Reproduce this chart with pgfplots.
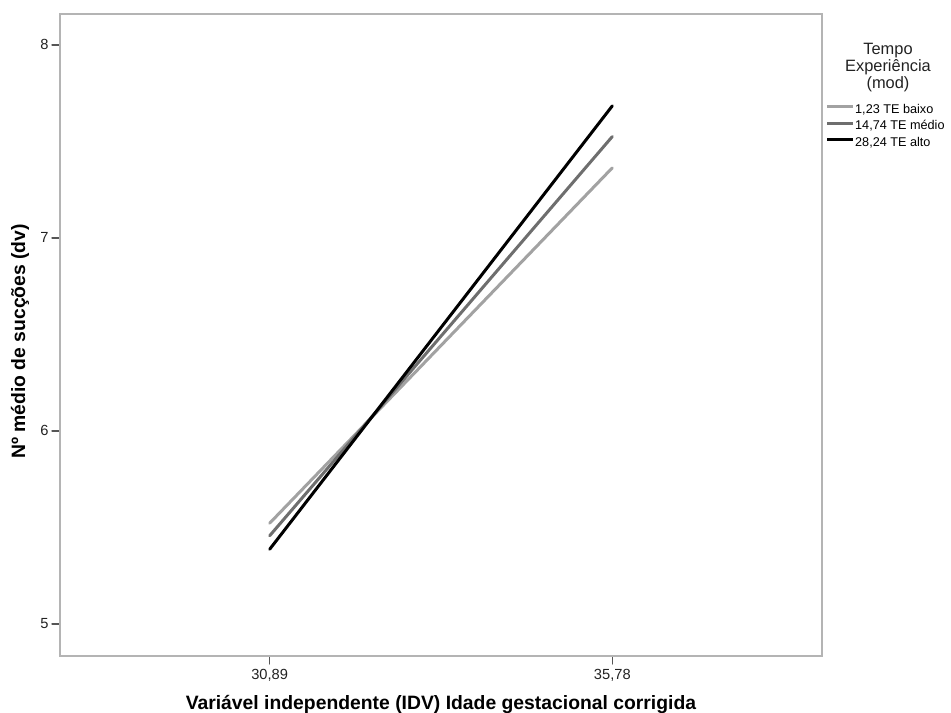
\documentclass[border=0pt]{standalone}
\usepackage{pgfplots}
\pgfplotsset{compat=1.18}
\usepackage{fontspec}
\setmainfont{Liberation Sans}
\definecolor{lightln}{HTML}{A2A2A2}
\definecolor{midln}{HTML}{6E6E6E}
\definecolor{framec}{HTML}{B4B4B4}
\definecolor{tickc}{HTML}{555555}
\definecolor{textc}{HTML}{222222}
\begin{document}
\begin{tikzpicture}
\path[use as bounding box] (0pt,0pt) rectangle (713.25pt,534.75pt);
\begin{axis}[
  at={(45pt,42.75pt)}, anchor=south west,
  scale only axis, width=571.5pt, height=481.5pt,
  xmin=0.388, xmax=2.612, ymin=4.834, ymax=8.16,
  xtick={1,2}, xticklabels={{30,89},{35,78}},
  ytick={5,6,7,8},
  /pgf/number format/assume math mode=true,
  tick align=outside, xtick pos=bottom, ytick pos=left,
  major tick length=6pt,
  tick style={tickc, line width=1pt},
  axis line style={framec, line width=1.1pt},
  tick label style={font=\fontsize{11}{13}\selectfont, text=textc},
  xticklabel style={yshift=-0.5pt},
  yticklabel style={xshift=1pt},
  xlabel={\textbf{Variável independente (IDV) Idade gestacional corrigida}},
  ylabel={\textbf{Nº médio de sucções (dv)}},
  label style={font=\fontsize{14.5}{16}\selectfont},
  xlabel style={at={(axis description cs:0.5,-0.0835)}, anchor=base},
  ylabel style={at={(axis description cs:-0.0525,0.49)}, anchor=center},
  legend style={at={(rel axis cs:1,1)}, anchor=north west, xshift=2.5pt, yshift=-67pt,
    draw=none, fill=none, inner sep=0pt, row sep=2.25pt,
    font=\fontsize{9.5}{11}\selectfont, cells={anchor=west},
    nodes={inner sep=0.5pt, text height=7pt, text depth=2pt}},
  legend image code/.code={\draw[#1, line width=2.2pt] (0pt,2.5pt) -- (19.5pt,2.5pt);},
  line cap=round,
]
\addplot[lightln, line width=2.25pt] coordinates {(1,5.522) (2,7.363)};
\addlegendentry{1,23 TE baixo}
\addplot[midln, line width=2.25pt] coordinates {(1,5.457) (2,7.525)};
\addlegendentry{14,74 TE médio}
\addplot[black, line width=2.25pt] coordinates {(1,5.387) (2,7.684)};
\addlegendentry{28,24 TE alto}
\end{axis}
\node[align=center, font=\fontsize{12.3}{12.75}\selectfont, text=textc] at (666pt,484pt) {Tempo\\Experiência\\(mod)};
\end{tikzpicture}
\end{document}
